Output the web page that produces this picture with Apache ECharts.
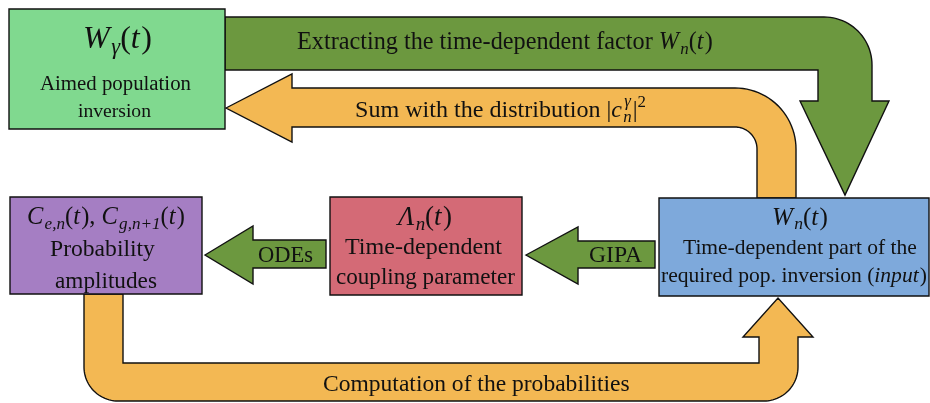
<!DOCTYPE html>
<html>
<head>
<meta charset="utf-8">
<script src="https://cdn.jsdelivr.net/npm/echarts@6/dist/echarts.min.js"></script>
<style>html,body{margin:0;padding:0;background:#fff}#c{width:930px;height:403px}</style>
</head>
<body>
<div id="c"></div>
<script>
// ---- content ----
const boxTitles = [
  [['W','i'],['γ','subi'],['(','r'],['t','i'],[')','r']],
  [['C','i'],['e,n','subi'],['(','r'],['t','i'],['), ','r'],['C','i'],['g,n+1','subi'],['(','r'],['t','i'],[')','r']],
  [['Λ','i'],['n','subi'],['(','r'],['t','i'],[')','r']],
  [['W','i'],['n','subi'],['(','r'],['t','i'],[')','r']]
];
const boxLines = [
  ['Aimed population', 'inversion'],
  ['Probability', 'amplitudes'],
  ['Time-dependent', 'coupling parameter'],
  ['Time-dependent part of the', 'required pop. inversion (input)']
];
const arrowLabels = [
  'Extracting the time-dependent factor ',
  'Sum with the distribution ',
  'ODEs',
  'GIPA',
  'Computation of the probabilities'
];
const boxColors = ['#80D98F', '#A57EC3', '#D46A76', '#7EA9DB'];
const arrowGreen = '#6C983F', arrowOrange = '#F3B853';

// ---- helpers ----
const FAM = '"Liberation Serif", "Times New Roman", serif';
const ctx = document.createElement('canvas').getContext('2d');
function fstr(it, px) { return (it ? 'italic ' : '') + px + 'px ' + FAM; }
function meas(t, it, px) { ctx.font = fstr(it, px); return ctx.measureText(t).width; }
function spec(f) {
  const [t, k] = f;
  if (typeof t === 'object') return {ss: t, k};
  const small = k.indexOf('sub') === 0 || k.indexOf('sup') === 0;
  return {t, sc: small ? 0.7 : 1, it: k === 'i' || k === 'subi' || k === 'supi',
          dy: k.indexOf('sub') === 0 ? 0.26 : (k.indexOf('sup') === 0 ? -0.36 : 0)};
}
function runWidth(specs, size) {
  let w = 0;
  specs.forEach(s => {
    if (s.ss) w += Math.max(meas(s.ss.sub, true, size * 0.7), meas(s.ss.sup, true, size * 0.7));
    else w += meas(s.t, s.it, size * s.sc) + (s.it && s.sc === 1 ? size * 0.05 : 0);
  });
  return w;
}
function txt(out, t, x, y, px, it) {
  out.push({type: 'text', x: x, y: y, z: 5, silent: true,
    style: {text: t, fontFamily: FAM, fontSize: px, fontStyle: it ? 'italic' : 'normal',
            fill: '#111', align: 'left', verticalAlign: 'middle'}});
}
function run(out, frags, x0, x1, cy) {
  const specs = frags.map(spec);
  const base = 20;
  const size = base * (x1 - x0) / runWidth(specs, base);
  let x = x0;
  specs.forEach(s => {
    if (s.ss) {
      const px = size * 0.7;
      txt(out, s.ss.sub, x, cy + size * 0.28, px, true);
      txt(out, s.ss.sup, x + 1, cy - size * 0.4, px, true);
      x += Math.max(meas(s.ss.sub, true, px), meas(s.ss.sup, true, px)) + 1;
    } else {
      const px = size * s.sc;
      txt(out, s.t, x, cy + s.dy * size, px, s.it);
      x += meas(s.t, s.it, px) + (s.it && s.sc === 1 ? size * 0.05 : 0);
    }
  });
}
const STROKE = {stroke: '#111', lineWidth: 1.4, lineJoin: 'miter'};
// outline spec: array of [x,y] points or ['arc', cx, cy, r, a0deg, a1deg]
function outline(spec) {
  const pts = [];
  spec.forEach(p => {
    if (p[0] === 'arc') {
      const [, cx, cy, r, a0, a1] = p;
      const n = 24;
      for (let i = 0; i <= n; i++) {
        const a = (a0 + (a1 - a0) * i / n) * Math.PI / 180;
        pts.push([cx + r * Math.cos(a), cy + r * Math.sin(a)]);
      }
    } else pts.push(p);
  });
  return pts;
}
function poly(out, spec, fill) {
  out.push({type: 'polygon', z: 1, silent: true, shape: {points: outline(spec)}, style: Object.assign({fill: fill}, STROKE)});
}
function rect(out, x, y, w, h, fill) {
  out.push({type: 'rect', z: 3, silent: true, shape: {x: x, y: y, width: w, height: h}, style: Object.assign({fill: fill}, STROKE)});
}

// ---- layout ----
const el = [];
// arrows
poly(el, [[225,17], ['arc',824,65,48,-90,0], [872,101], [889,101], [845,195], [800,101], [818,101], [818,70], [225,70]], arrowGreen);
poly(el, [[226,108], [292,74], [292,88], ['arc',735,149,61,-90,0], [796,198], [757,198], ['arc',735,149,22,0,-90], [292,127], [292,142]], arrowOrange);
poly(el, [[84,294], ['arc',118,367,34,180,90], ['arc',764,367,34,90,0], [798,337], [813,337], [778,298], [743,337], [759,337], [759,363], [123,363], [123,294]], arrowOrange);
poly(el, [[205,255], [253,226], [253,240], [326,240], [326,268], [253,268], [253,284]], arrowGreen);
poly(el, [[526,255], [578,227], [578,241], [655,241], [655,268], [578,268], [578,284]], arrowGreen);
// boxes
rect(el, 9, 9, 216, 120, boxColors[0]);
rect(el, 10, 197, 192, 97, boxColors[1]);
rect(el, 330, 197, 192, 98, boxColors[2]);
rect(el, 659, 198, 270, 98, boxColors[3]);

// box texts
run(el, boxTitles[0], 83, 152, 40);
run(el, [[boxLines[0][0], 'r']], 40, 191, 85);
run(el, [[boxLines[0][1], 'r']], 78, 151, 112);

run(el, boxTitles[1], 27, 185, 218);
run(el, [[boxLines[1][0], 'r']], 50, 155, 250);
run(el, [[boxLines[1][1], 'r']], 55, 157, 282);

run(el, boxTitles[2], 398, 452, 218);
run(el, [[boxLines[2][0], 'r']], 345, 502, 248);
run(el, [[boxLines[2][1], 'r']], 336, 515, 278);

run(el, boxTitles[3], 772, 828, 218);
run(el, [[boxLines[3][0], 'r']], 683, 917, 248);
const req = boxLines[3][1];
run(el, [[req.slice(0, req.indexOf('(') + 1), 'r'], ['input', 'i'], [')', 'r']], 661, 927, 276);

// arrow labels
run(el, [[arrowLabels[0], 'r']].concat(boxTitles[3]), 297, 713, 43);
run(el, [[arrowLabels[1] + '|', 'r'], ['c', 'i'], [{sub: 'n', sup: 'γ'}, 'ss'], ['|', 'r'], ['2', 'sup']], 355, 645, 111);
run(el, [[arrowLabels[2], 'r']], 258, 313, 256);
run(el, [[arrowLabels[3], 'r']], 589, 642, 256);
run(el, [[arrowLabels[4], 'r']], 323, 630, 385);

const chart = echarts.init(document.getElementById('c'), null, {renderer: 'canvas'});
chart.setOption({animation: false, backgroundColor: '#fff', graphic: {elements: el}});
</script>
</body>
</html>
